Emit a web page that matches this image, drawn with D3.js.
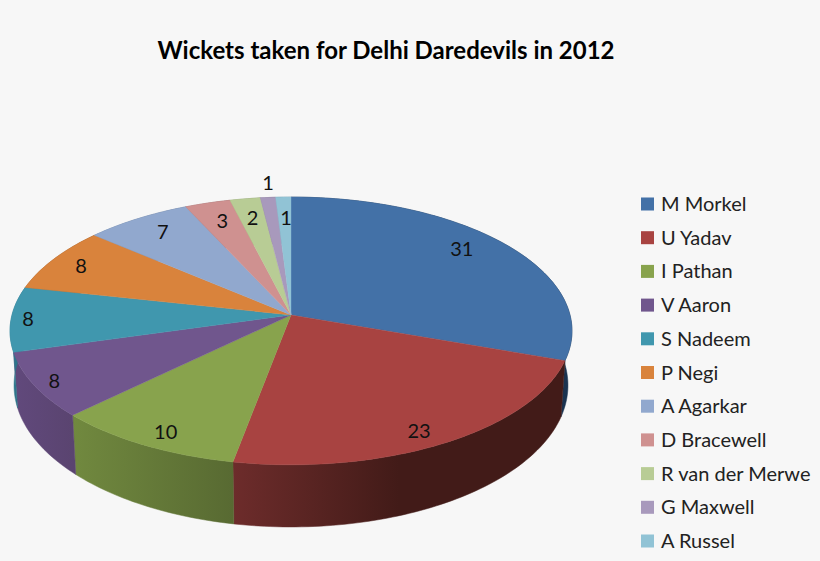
<!DOCTYPE html>
<html>
<head>
<meta charset="utf-8">
<script src="https://cdn.jsdelivr.net/npm/d3@7/dist/d3.min.js"></script>
<style>
  html, body { margin: 0; padding: 0; background: #f7f7f7; }
  svg { display: block; font-family: Lato, "Open Sans", sans-serif; }
</style>
</head>
<body>
<svg id="chart" width="820" height="561"></svg>
<script>
// Wickets per bowler, clockwise from 12 o'clock
const players = ["M Morkel", "U Yadav", "I Pathan", "V Aaron", "S Nadeem", "P Negi",
    "A Agarkar", "D Bracewell", "R van der Merwe", "G Maxwell", "A Russel"];
const wickets = [31, 23, 10, 8, 8, 8, 7, 3, 2, 1, 1];
const colors = ["#4371a7", "#a84341", "#88a34d", "#70568d", "#4097ae", "#d9833c",
    "#91a8ce", "#cf9190", "#b8cc95", "#a899bc", "#91c3d5"];

// wall shading, left to right across each slice
const wallLeft = ["#1f3a5c", "#6d2c2b", "#71893f", "#61497c", "#2f7a90", "#a8622c",
    "#6f83a4", "#a06f6e", "#8ea073", "#806f96", "#6c9db0"];
const wallRight = ["#1a3350", "#421b18", "#586a32", "#5a4470", "#2b6c80", "#8d5224",
    "#5f7190", "#8a5f5e", "#7a8a62", "#6e6082", "#5c8a9b"];

// label placement: fraction of the radius, and turn from mid-slice in degrees
const labelRadius = [0.84, 0.90, 0.90, 0.93, 0.94, 0.88, 0.84, 0.82, 0.82, 1.14, 0.81];
const labelTurn = [-3.9, 2.5, -1.4, -0.6, 0, 0, 0.8, 0.3, 0, 0.6, 0.4];

const svg = d3.select("#chart");

const PERSP = 0.119;
const rimTop = { cx: 291, cy: 315, a: 279, b: 132 };
const rimBottom = { cx: 291, cy: 368.5, a: 275, b: 139.6 };

// unit circle -> tilted disc, the far side foreshortened
function project(rim, angle, r = 1) {
    const u = r * Math.sin(angle);
    const v = -r * Math.cos(angle);
    const w = 1 - PERSP * v;
    return [rim.cx + rim.a * u / w, rim.cy + rim.b * v / w];
}

const slices = d3.pie().sort(null)(wickets);
const line = d3.line().curve(d3.curveLinearClosed);

function arcAngles(s) {
    const n = Math.max(2, Math.ceil((s.endAngle - s.startAngle) / 0.02));
    return d3.range(n + 1).map(i => s.startAngle + (s.endAngle - s.startAngle) * i / n);
}

const defs = svg.append("defs");

// Walls first, the top face covers whatever is behind it
slices.forEach((s, i) => {
    const angles = arcAngles(s);
    const top = angles.map(a => project(rimTop, a));
    const bottom = angles.map(a => project(rimBottom, a)).reverse();
    const xs = d3.extent(top, d => d[0]);
    const id = "wall" + i;
    const grad = defs.append("linearGradient").attr("id", id)
        .attr("gradientUnits", "userSpaceOnUse")
        .attr("x1", xs[0]).attr("x2", i === 1 ? xs[0] + (xs[1] - xs[0]) * 0.5 : xs[1])
        .attr("y1", 0).attr("y2", 0);
    grad.append("stop").attr("offset", 0).attr("stop-color", wallLeft[i]);
    grad.append("stop").attr("offset", 1).attr("stop-color", wallRight[i]);
    svg.append("path")
        .attr("d", line(top.concat(bottom)))
        .attr("fill", `url(#${id})`)
        .attr("stroke", `url(#${id})`)
        .attr("stroke-width", 0.5);
});

// Top face
svg.append("g").selectAll("path")
    .data(slices)
    .join("path")
    .attr("d", s => line([[rimTop.cx, rimTop.cy]].concat(arcAngles(s).map(a => project(rimTop, a)))))
    .attr("fill", (s, i) => colors[i])
    .attr("stroke", (s, i) => colors[i])
    .attr("stroke-width", 0.4);

// Data labels
svg.append("g").selectAll("text")
    .data(slices)
    .join("text")
    .attr("transform", (s, i) => {
        const mid = (s.startAngle + s.endAngle) / 2 + labelTurn[i] * Math.PI / 180;
        return `translate(${project(rimTop, mid, labelRadius[i])})`;
    })
    .attr("text-anchor", "middle")
    .attr("dy", "0.35em")
    .attr("font-size", 20)
    .attr("fill", "#111")
    .text(s => s.value);

// Title
svg.append("text")
    .attr("x", 386).attr("y", 59)
    .attr("text-anchor", "middle")
    .attr("font-size", 24)
    .attr("font-weight", 700)
    .attr("fill", "#000")
    .text("Wickets taken for Delhi Daredevils in 2012");

// Legend
const legendY = d3.scalePoint().domain(players).range([204, 541]);
const legend = svg.append("g").selectAll("g")
    .data(players)
    .join("g")
    .attr("transform", d => `translate(641,${legendY(d)})`);
legend.append("rect")
    .attr("y", -6.5).attr("width", 13).attr("height", 13)
    .attr("fill", (d, i) => colors[i]);
legend.append("text")
    .attr("x", 20).attr("dy", "0.35em")
    .attr("font-size", 20)
    .attr("fill", "#222")
    .text(d => d);
</script>
</body>
</html>
